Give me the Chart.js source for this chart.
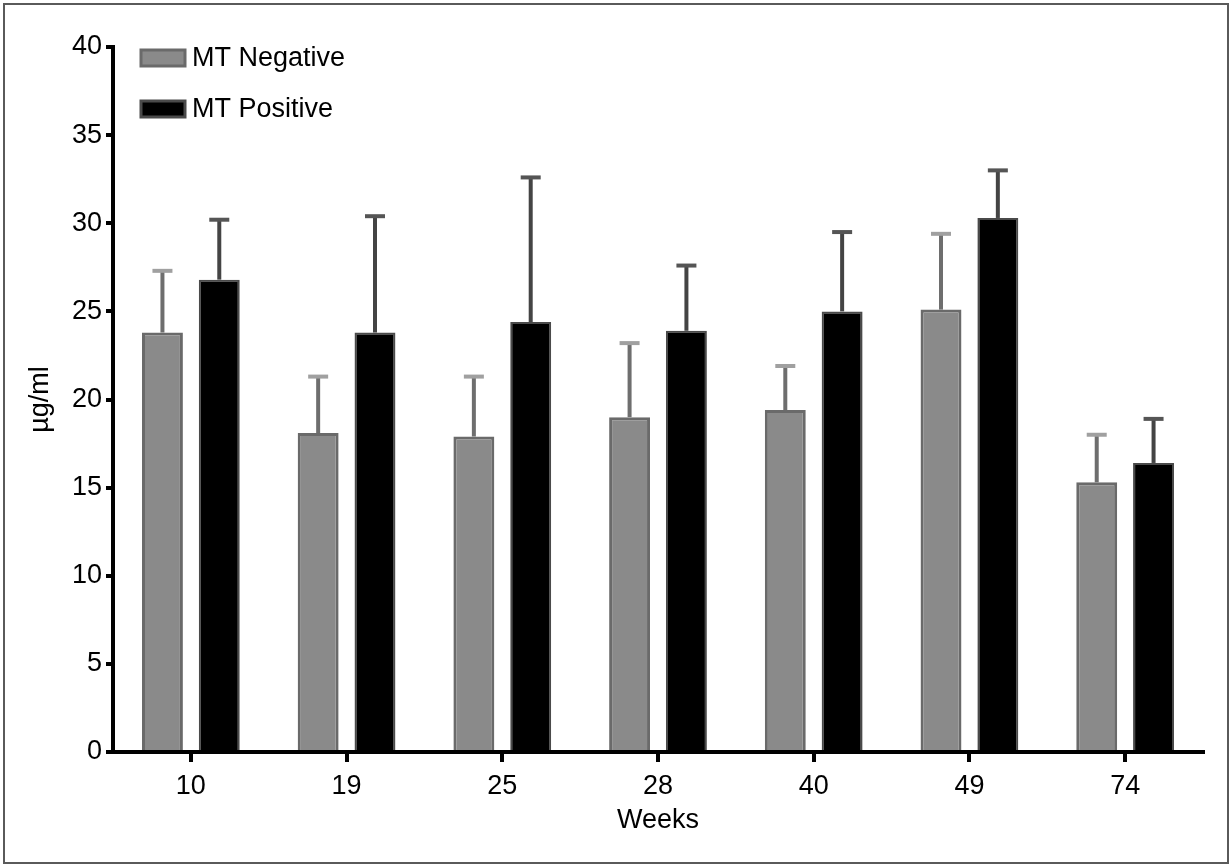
<!DOCTYPE html>
<html>
<head>
<meta charset="utf-8">
<script src="https://cdn.jsdelivr.net/npm/chart.js@4.4.1/dist/chart.umd.min.js"></script>
<style>
  html, body { margin: 0; padding: 0; background: #fff; }
  #wrap { width: 1232px; height: 867px; position: relative; }
</style>
</head>
<body>
<div id="wrap"><canvas id="grafico" width="1232" height="867"></canvas></div>
<script>
// Dados
const semanas = ['10', '19', '25', '28', '40', '49', '74'];
const mediaNegativo = [23.8, 18.1, 17.9, 19.0, 19.4, 25.1, 15.3];
const topoErroNegativo = [27.3, 21.3, 21.3, 23.2, 21.9, 29.4, 18.0];
const mediaPositivo = [26.8, 23.8, 24.4, 23.9, 25.0, 30.3, 16.4];
const topoErroPositivo = [30.2, 30.4, 32.6, 27.6, 29.5, 33.0, 18.9];
const ticksY = [0, 5, 10, 15, 20, 25, 30, 35, 40];

const fonte = "'Liberation Sans', Arial, sans-serif";

// Moldura em volta da figura
const molduraPlugin = {
    id: 'moldura',
    beforeDraw(chart) {
        const ctx = chart.ctx;
        ctx.save();
        ctx.fillStyle = '#fff';
        ctx.fillRect(0, 0, chart.width, chart.height);
        ctx.strokeStyle = '#5a5a5a';
        ctx.lineWidth = 2;
        ctx.strokeRect(4, 4, chart.width - 8, chart.height - 8);
        ctx.restore();
    }
};

// Barras de erro (só para cima)
const erroPlugin = {
    id: 'barrasErro',
    afterDatasetsDraw(chart) {
        const ctx = chart.ctx;
        const y = chart.scales.y;
        chart.data.datasets.forEach((ds, i) => {
            const meta = chart.getDatasetMeta(i);
            meta.data.forEach((bar, j) => {
                const topo = y.getPixelForValue(ds.topoErro[j]);
                ctx.save();
                ctx.strokeStyle = ds.corErro;
                ctx.lineWidth = 4;
                ctx.beginPath();
                ctx.moveTo(bar.x, bar.y);
                ctx.lineTo(bar.x, topo);
                ctx.stroke();
                ctx.strokeStyle = ds.corCapa;
                ctx.beginPath();
                ctx.moveTo(bar.x - 10, topo);
                ctx.lineTo(bar.x + 10, topo);
                ctx.stroke();
                ctx.restore();
            });
        });
    }
};

// Legenda dentro da área do gráfico
const legendaPlugin = {
    id: 'legendaInterna',
    afterDraw(chart) {
        const ctx = chart.ctx;
        const area = chart.chartArea;
        ctx.save();
        chart.data.datasets.forEach((ds, i) => {
            const yTop = area.top + 3 + i * 51;
            ctx.fillStyle = ds.backgroundColor;
            ctx.fillRect(area.left + 28, yTop, 44, 16);
            ctx.strokeStyle = ds.borderColor;
            ctx.lineWidth = 3;
            ctx.strokeRect(area.left + 28, yTop, 44, 16);
            ctx.fillStyle = '#000';
            ctx.font = '27px ' + fonte;
            ctx.textBaseline = 'middle';
            ctx.fillText(ds.label, area.left + 79, yTop + 9);
        });
        ctx.restore();
    }
};

const ctxBar = document.getElementById('grafico');
new Chart(ctxBar, {
    type: 'bar',
    data: {
        labels: semanas,
        datasets: [{
            label: 'MT Negative',
            data: mediaNegativo,
            topoErro: topoErroNegativo,
            backgroundColor: '#8a8a8a',
            borderColor: '#6a6a6a',
            borderWidth: 3,
            corErro: '#6e6e6e',
            corCapa: '#a0a0a0'
        }, {
            label: 'MT Positive',
            data: mediaPositivo,
            topoErro: topoErroPositivo,
            backgroundColor: '#000000',
            borderColor: '#4a4a4a',
            borderWidth: 2,
            corErro: '#444444',
            corCapa: '#555555'
        }]
    },
    options: {
        responsive: false,
        animation: false,
        devicePixelRatio: 1,
        categoryPercentage: 0.73,
        barPercentage: 0.72,
        layout: { padding: { left: 24, right: 29, top: 47, bottom: 30 } },
        plugins: {
            legend: { display: false },
            tooltip: { enabled: false }
        },
        scales: {
            x: {
                grid: {
                    display: true,
                    offset: false,
                    drawOnChartArea: false,
                    drawTicks: true,
                    tickLength: 10,
                    color: '#000',
                    lineWidth: 4
                },
                border: { display: true, color: '#000', width: 4 },
                ticks: { color: '#000', font: { size: 27, family: fonte }, padding: 8 },
                title: {
                    display: true,
                    text: 'Weeks',
                    color: '#000',
                    font: { size: 27, family: fonte },
                    padding: { top: 0, bottom: 0 }
                },
                afterFit(s) { s.height = 85; }
            },
            y: {
                min: 0,
                max: 40,
                afterBuildTicks(s) { s.ticks = ticksY.map(v => ({ value: v })); },
                grid: {
                    display: true,
                    drawOnChartArea: false,
                    drawTicks: true,
                    tickLength: 7,
                    color: '#000',
                    lineWidth: 4
                },
                border: { display: true, color: '#000', width: 4 },
                ticks: { color: '#000', font: { size: 27, family: fonte }, padding: 4 },
                title: {
                    display: true,
                    text: 'µg/ml',
                    color: '#000',
                    font: { size: 27, family: fonte },
                    padding: { top: 0, bottom: 0 }
                },
                afterFit(s) { s.width = 89; }
            }
        }
    },
    plugins: [molduraPlugin, erroPlugin, legendaPlugin]
});
</script>
</body>
</html>
